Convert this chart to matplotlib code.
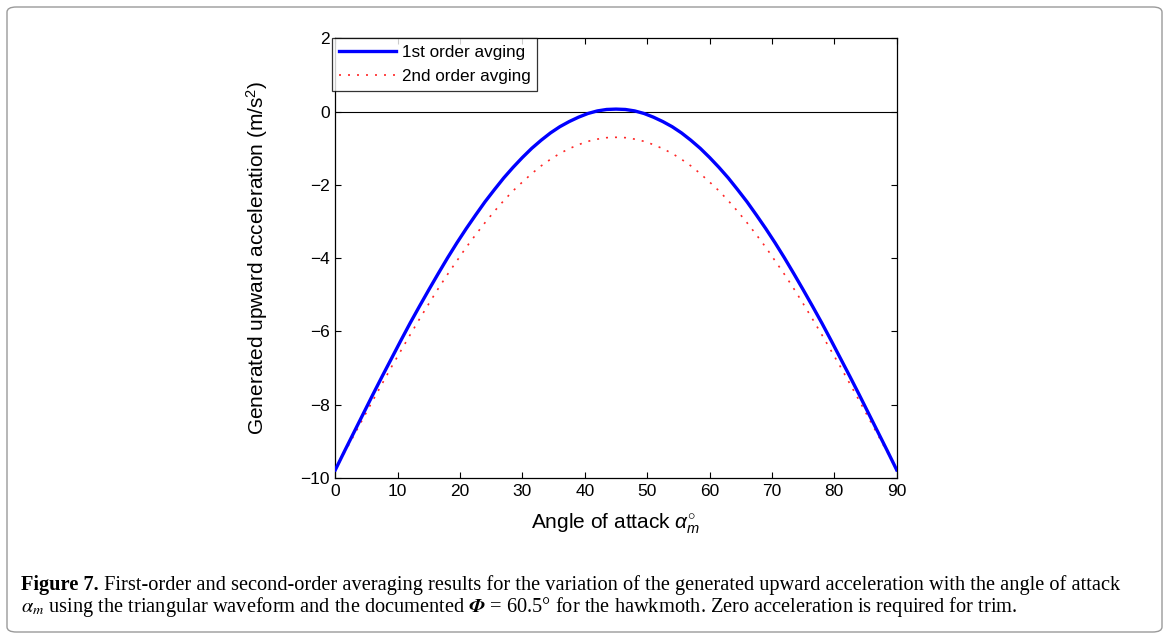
import matplotlib
matplotlib.use("Agg")
import matplotlib.pyplot as plt
from matplotlib.patches import FancyBboxPatch

alpha_deg = [0.0, 1.5, 3.0, 4.5, 6.0, 7.5, 9.0, 10.5, 12.0, 13.5, 15.0, 16.5, 18.0, 19.5,
             21.0, 22.5, 24.0, 25.5, 27.0, 28.5, 30.0, 31.5, 33.0, 34.5, 36.0, 37.5,
             39.0, 40.5, 42.0, 43.5, 45.0, 46.5, 48.0, 49.5, 51.0, 52.5, 54.0, 55.5,
             57.0, 58.5, 60.0, 61.5, 63.0, 64.5, 66.0, 67.5, 69.0, 70.5, 72.0, 73.5,
             75.0, 76.5, 78.0, 79.5, 81.0, 82.5, 84.0, 85.5, 87.0, 88.5, 90.0]
first_order = [-9.78, -9.26, -8.75, -8.24, -7.73, -7.23, -6.74, -6.25, -5.77, -5.31,
               -4.86, -4.42, -3.99, -3.58, -3.19, -2.82, -2.46, -2.13, -1.81, -1.52,
               -1.25, -1.00, -0.78, -0.58, -0.41, -0.27, -0.15, -0.05, 0.02, 0.06,
               0.07,
               0.06, 0.02, -0.05, -0.15, -0.27, -0.41, -0.58, -0.78, -1.00, -1.25,
               -1.52, -1.81, -2.13, -2.46, -2.82, -3.19, -3.58, -3.99, -4.42, -4.86,
               -5.31, -5.77, -6.25, -6.74, -7.23, -7.73, -8.24, -8.75, -9.26, -9.78]
second_order = [-9.78, -9.30, -8.83, -8.36, -7.89, -7.43, -6.97, -6.53, -6.09, -5.66,
                -5.24, -4.83, -4.44, -4.07, -3.70, -3.36, -3.03, -2.72, -2.43, -2.16,
                -1.92, -1.69, -1.48, -1.30, -1.14, -1.01, -0.90, -0.81, -0.75, -0.71,
                -0.70,
                -0.71, -0.75, -0.81, -0.90, -1.01, -1.14, -1.30, -1.48, -1.69, -1.92,
                -2.16, -2.43, -2.72, -3.03, -3.36, -3.70, -4.07, -4.44, -4.83, -5.24,
                -5.66, -6.09, -6.53, -6.97, -7.43, -7.89, -8.36, -8.83, -9.30, -9.78]
x_ticks = [0, 10, 20, 30, 40, 50, 60, 70, 80, 90]
y_ticks = [-10, -8, -6, -4, -2, 0, 2]
legend_labels = ["1st order avging", "2nd order avging"]
x_label = r"Angle of attack $\alpha_{m}^{\circ}$"
y_label = r"Generated upward acceleration (m/s$^{2}$)"
caption_bold = "Figure 7."
caption_rest1 = (" First-order and second-order averaging results for the variation of the "
                 "generated upward acceleration with the angle of attack")
caption_line2 = (r"$\alpha_m$ using the triangular waveform and the documented "
                 r"$\mathbfit{\Phi}$ = 60.5° for the hawkmoth. Zero acceleration is required for trim.")

plt.rcParams["font.family"] = ["Liberation Sans", "DejaVu Sans"]
plt.rcParams["mathtext.fontset"] = "custom"
plt.rcParams["mathtext.rm"] = "Liberation Sans"
plt.rcParams["mathtext.it"] = "Liberation Sans:italic"
plt.rcParams["mathtext.bf"] = "Liberation Sans:bold"

W, H = 1169, 639
fig = plt.figure(figsize=(W / 100, H / 100), dpi=100)
fig.patch.set_facecolor("white")

# outer rounded frame
frame = FancyBboxPatch((7 / W, 7 / H), (W - 14) / W, (H - 14) / H,
                       boxstyle="round,pad=0,rounding_size=0.008",
                       transform=fig.transFigure, facecolor="none",
                       edgecolor="#9a9a9a", linewidth=1.0)
fig.patches.append(frame)

ax = fig.add_axes([335.3 / W, 1 - 478 / H, (896.7 - 335.3) / W, (478 - 38.4) / H])
ax.axhline(0, color="black", lw=0.8, zorder=1)
ax.plot(alpha_deg, first_order, color=(0, 0, 1), lw=2.4, label=legend_labels[0],
        zorder=3, solid_joinstyle="round")
ax.plot(alpha_deg, second_order, color=(1, 0.15, 0.15), lw=1.2,
        linestyle=(0, (1.2, 4.2)), label=legend_labels[1], zorder=2)

ax.set_xlim(0, 90)
ax.set_ylim(-10, 2)
ax.set_xticks(x_ticks)
ax.set_yticks(y_ticks)
ax.set_yticklabels([f"{v}".replace("-", "\u2212") for v in y_ticks])
ax.tick_params(direction="in", length=4, width=0.8, top=True, right=True,
               labelsize=12.5, pad=4)
for s in ax.spines.values():
    s.set_linewidth(0.9)

ax.set_xlabel(x_label, fontsize=15, labelpad=9)
ax.set_ylabel(y_label, fontsize=15, labelpad=22)

leg = ax.legend(loc="upper left", bbox_to_anchor=(-0.005, 1.0), borderaxespad=0,
                fontsize=12.3, frameon=True, fancybox=False, edgecolor="black",
                handlelength=3.3, handletextpad=0.35, borderpad=0.4, labelspacing=0.5)
leg.get_frame().set_linewidth(0.9)

# caption
cap_fs = 14.0
y1 = 1 - 585 / H
y2 = 1 - 607 / H
tb = fig.text(21 / W, y1, caption_bold, fontsize=cap_fs, fontweight="bold",
              family="Liberation Serif", va="center", ha="left")
fig.canvas.draw()
r = fig.canvas.get_renderer()
bb = tb.get_window_extent(r)
tr = fig.text(bb.x1 / W, y1, caption_rest1, fontsize=cap_fs,
              family="Liberation Serif", va="center", ha="left")
fig.canvas.draw()
bb2 = tr.get_window_extent(r)
# scale to the reference width of line 1
target_right = 1128
scale = (target_right - 21) / (bb2.x1 - 21)
cap_fs = cap_fs * scale
tb.set_fontsize(cap_fs)
fig.canvas.draw()
bb = tb.get_window_extent(r)
tr.set_position((bb.x1 / W, y1))
tr.set_fontsize(cap_fs)
fig.text(21 / W, y2, caption_line2, fontsize=cap_fs, family="Liberation Serif",
         va="center", ha="left", math_fontfamily="stix")

fig.savefig("out.png", dpi=100)
